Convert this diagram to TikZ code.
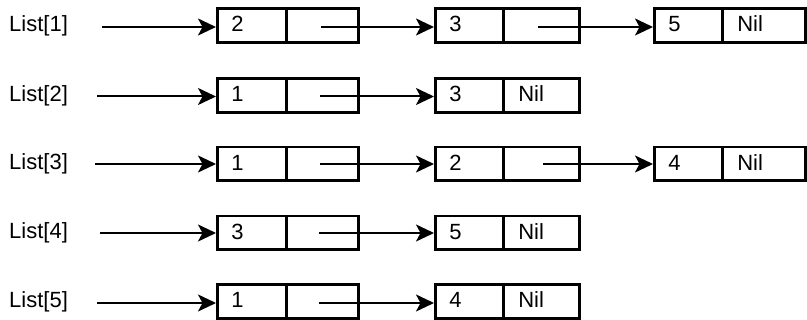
\documentclass[tikz,border=0pt]{standalone}
\usepackage{fontspec}
\setmainfont{Liberation Sans}
\usetikzlibrary{arrows.meta}
\tikzset{
  cell/.style={draw=black, line width=2.6pt, rectangle, minimum height=33.6pt,
    inner xsep=14pt, inner ysep=0pt, align=left, anchor=west,
    text height=15.5pt, text depth=2.5pt, font=\fontsize{22}{24}\selectfont},
  lbl/.style={anchor=west, inner sep=0pt, font=\fontsize{22}{24}\selectfont},
  ptr/.style={line width=2pt, -{Stealth[length=18pt, width=17pt, inset=4.5pt]}, shorten >=0pt}
}
\begin{document}
\begin{tikzpicture}[x=1pt,y=-1pt]
\useasboundingbox (0,0) rectangle (807,320);
% widths: box1 216-285-357, box2 434-502-578, box3 653-721-805
\def\rowA{25.5}\def\rowB{95.5}\def\rowC{164}\def\rowD{233}\def\rowE{301.5}
% Row 1
\node[lbl] (l1) at (9,\rowA) {List[1]};
\coordinate (s1) at (102,\rowA+1.5);
\node[cell, text width=41pt] (a1) at (216,\rowA) {2};
\node[cell, text width=44pt] (b1) at (285,\rowA) {};
\node[cell, text width=40pt] (c1) at (434,\rowA) {3};
\node[cell, text width=48pt] (d1) at (502,\rowA) {};
\node[cell, text width=40pt] (e1) at (653,\rowA) {5};
\node[cell, inner xsep=15pt, text width=53pt] (f1) at (721,\rowA) {Nil};
\draw[ptr] (s1) -- (s1 -| a1.west);
\coordinate (p1) at (321,\rowA+1.5);
\draw[ptr] (p1) -- (p1 -| c1.west);
\coordinate (q1) at (538,\rowA+1.5);
\draw[ptr] (q1) -- (q1 -| e1.west);
% Row 2
\node[lbl] (l2) at (9,\rowB) {List[2]};
\coordinate (s2) at (97,\rowB+1);
\node[cell, text width=41pt] (a2) at (216,\rowB) {1};
\node[cell, text width=44pt] (b2) at (285,\rowB) {};
\node[cell, text width=40pt] (c2) at (434,\rowB) {3};
\node[cell, inner xsep=15pt, text width=46pt] (d2) at (502,\rowB) {Nil};
\draw[ptr] (s2) -- (s2 -| a2.west);
\coordinate (p2) at (320,\rowB+1);
\draw[ptr] (p2) -- (p2 -| c2.west);
% Row 3
\node[lbl] (l3) at (9,\rowC) {List[3]};
\coordinate (s3) at (95,\rowC);
\node[cell, text width=41pt] (a3) at (216,\rowC) {1};
\node[cell, text width=44pt] (b3) at (285,\rowC) {};
\node[cell, text width=40pt] (c3) at (434,\rowC) {2};
\node[cell, text width=48pt] (d3) at (502,\rowC) {};
\node[cell, text width=40pt] (e3) at (653,\rowC) {4};
\node[cell, inner xsep=15pt, text width=53pt] (f3) at (721,\rowC) {Nil};
\draw[ptr] (s3) -- (s3 -| a3.west);
\coordinate (p3) at (320,\rowC);
\draw[ptr] (p3) -- (p3 -| c3.west);
\coordinate (q3) at (543,\rowC);
\draw[ptr] (q3) -- (q3 -| e3.west);
% Row 4
\node[lbl] (l4) at (9,\rowD) {List[4]};
\coordinate (s4) at (100,\rowD);
\node[cell, text width=41pt] (a4) at (216,\rowD) {3};
\node[cell, text width=44pt] (b4) at (285,\rowD) {};
\node[cell, text width=40pt] (c4) at (434,\rowD) {5};
\node[cell, inner xsep=15pt, text width=46pt] (d4) at (502,\rowD) {Nil};
\draw[ptr] (s4) -- (s4 -| a4.west);
\coordinate (p4) at (319,\rowD);
\draw[ptr] (p4) -- (p4 -| c4.west);
% Row 5
\node[lbl] (l5) at (9,\rowE) {List[5]};
\coordinate (s5) at (97,\rowE+1.5);
\node[cell, text width=41pt] (a5) at (216,\rowE) {1};
\node[cell, text width=44pt] (b5) at (285,\rowE) {};
\node[cell, text width=40pt] (c5) at (434,\rowE) {4};
\node[cell, inner xsep=15pt, text width=46pt] (d5) at (502,\rowE) {Nil};
\draw[ptr] (s5) -- (s5 -| a5.west);
\coordinate (p5) at (319,\rowE+1.5);
\draw[ptr] (p5) -- (p5 -| c5.west);
\end{tikzpicture}
\end{document}
